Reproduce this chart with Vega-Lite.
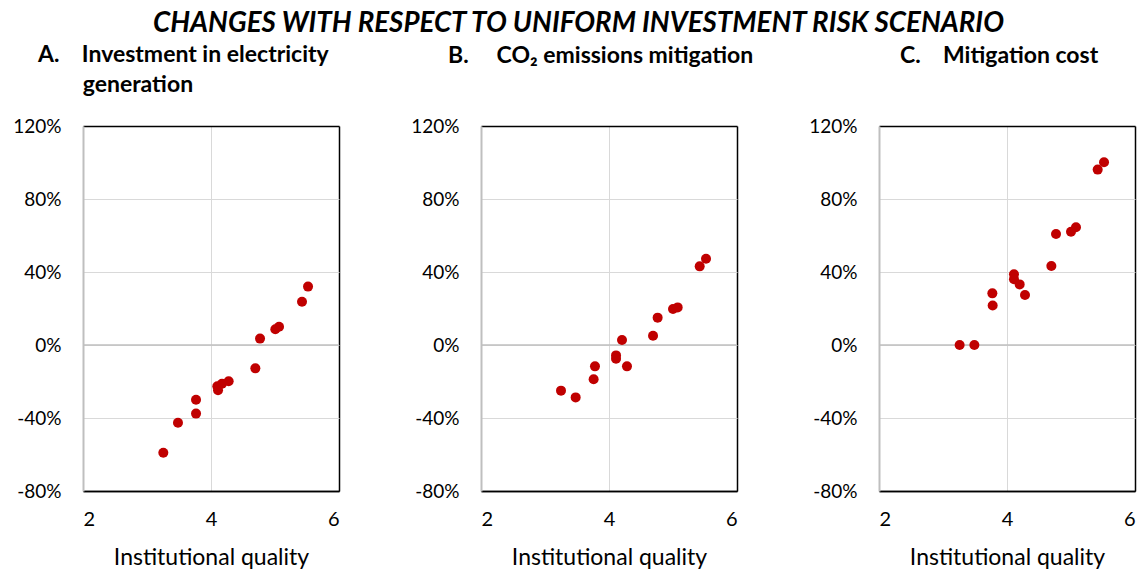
{
  "$schema": "https://vega.github.io/schema/vega-lite/v6.json",
  "background": "white",
  "padding": {"left": 12, "top": 10, "right": 5, "bottom": 5},
  "title": {"text": "CHANGES WITH RESPECT TO UNIFORM INVESTMENT RISK SCENARIO", "font": "Lato", "fontSize": 27.7, "fontWeight": "bold", "fontStyle": "italic", "anchor": "start", "frame": "group", "dx": 70, "offset": 6, "color": "black"},
  "datasets": {
    "A": [
      {"x": 3.255, "y": -0.590}, {"x": 3.484, "y": -0.426}, {"x": 3.766, "y": -0.300}, {"x": 3.766, "y": -0.376},
      {"x": 4.099, "y": -0.226}, {"x": 4.110, "y": -0.248}, {"x": 4.172, "y": -0.212}, {"x": 4.276, "y": -0.199},
      {"x": 4.693, "y": -0.128}, {"x": 4.766, "y": 0.035}, {"x": 5.005, "y": 0.086}, {"x": 5.063, "y": 0.100},
      {"x": 5.422, "y": 0.237}, {"x": 5.516, "y": 0.320}
    ],
    "B": [
      {"x": 3.250, "y": -0.250}, {"x": 3.479, "y": -0.287}, {"x": 3.781, "y": -0.117}, {"x": 3.760, "y": -0.188},
      {"x": 4.110, "y": -0.057}, {"x": 4.110, "y": -0.075}, {"x": 4.203, "y": 0.027}, {"x": 4.281, "y": -0.117},
      {"x": 4.688, "y": 0.051}, {"x": 4.760, "y": 0.150}, {"x": 5.000, "y": 0.197}, {"x": 5.073, "y": 0.206},
      {"x": 5.417, "y": 0.431}, {"x": 5.516, "y": 0.473}
    ],
    "C": [
      {"x": 3.260, "y": 0.000}, {"x": 3.490, "y": 0.000}, {"x": 3.771, "y": 0.283}, {"x": 3.776, "y": 0.216},
      {"x": 4.109, "y": 0.387}, {"x": 4.109, "y": 0.360}, {"x": 4.198, "y": 0.332}, {"x": 4.281, "y": 0.274},
      {"x": 4.693, "y": 0.433}, {"x": 4.766, "y": 0.608}, {"x": 5.000, "y": 0.621}, {"x": 5.078, "y": 0.645},
      {"x": 5.417, "y": 0.961}, {"x": 5.516, "y": 1.001}
    ],
    "zero": [{"v": 0}]
  },
  "spacing": 142,
  "bounds": "flush",
  "config": {
    "view": {"stroke": null},
    "font": "Lato",
    "title": {"font": "Lato", "fontSize": 23, "fontWeight": "bold", "color": "black", "anchor": "start", "frame": "group", "lineHeight": 30}
  },
  "hconcat": [
    {
      "width": 256, "height": 365,
      "title": {"text": ["A.\u00a0\u00a0\u00a0\u00a0Investment in electricity", "\u200b\u00a0\u00a0\u00a0\u00a0\u00a0\u00a0\u00a0\u00a0generation"], "dx": -45, "offset": 20},
      "layer": [
        {
          "data": {"name": "zero"},
          "mark": {"type": "rule", "color": "#bfbfbf", "strokeWidth": 1.5},
          "encoding": {"y": {"field": "v", "type": "quantitative", "scale": {"domain": [-0.8, 1.2], "nice": false, "zero": false}}}
        },
        {
          "data": {"name": "A"},
          "mark": {"type": "circle", "size": 100, "color": "#c00000", "opacity": 1},
          "encoding": {
            "x": {"field": "x", "type": "quantitative", "scale": {"domain": [2, 6], "nice": false, "zero": false},
              "axis": {"values": [2, 4, 6], "title": "Institutional quality", "titleFontSize": 23, "titleFontWeight": "normal", "titleColor": "black", "titlePadding": 17,
                "labelFontSize": 20, "labelColor": "black", "labelPadding": 18, "ticks": false, "tickSize": 0, "domainColor": "black", "domainWidth": 1.5,
                "grid": true, "gridColor": {"condition": {"test": "datum.value > 5.9", "value": "black"}, "value": "#d9d9d9"}, "gridWidth": {"condition": {"test": "datum.value > 5.9", "value": 1.5}, "value": 1}}},
            "y": {"field": "y", "type": "quantitative", "scale": {"domain": [-0.8, 1.2], "nice": false, "zero": false},
              "axis": {"values": [-0.8, -0.4, 0, 0.4, 0.8, 1.2], "title": null, "labelExpr": "round(datum.value*100) + '%'",
                "labelFontSize": 19, "labelColor": "black", "labelPadding": 22, "ticks": false, "tickSize": 0, "domainColor": "#bfbfbf", "domainWidth": 2,
                "grid": true, "gridColor": {"condition": {"test": "datum.value > 1.1 || datum.value < -0.7", "value": "black"}, "value": "#d9d9d9"}, "gridWidth": {"condition": {"test": "datum.value > 1.1 || datum.value < -0.7", "value": 1.5}, "value": 1}}}
          }
        }
      ]
    },
    {
      "width": 256, "height": 365,
      "title": {"text": "B.\u00a0\u00a0\u00a0\u00a0\u00a0CO\u2082 emissions mitigation", "dx": -33, "offset": 49},
      "layer": [
        {
          "data": {"name": "zero"},
          "mark": {"type": "rule", "color": "#bfbfbf", "strokeWidth": 1.5},
          "encoding": {"y": {"field": "v", "type": "quantitative", "scale": {"domain": [-0.8, 1.2], "nice": false, "zero": false}}}
        },
        {
          "data": {"name": "B"},
          "mark": {"type": "circle", "size": 100, "color": "#c00000", "opacity": 1},
          "encoding": {
            "x": {"field": "x", "type": "quantitative", "scale": {"domain": [2, 6], "nice": false, "zero": false},
              "axis": {"values": [2, 4, 6], "title": "Institutional quality", "titleFontSize": 23, "titleFontWeight": "normal", "titleColor": "black", "titlePadding": 17,
                "labelFontSize": 20, "labelColor": "black", "labelPadding": 18, "ticks": false, "tickSize": 0, "domainColor": "black", "domainWidth": 1.5,
                "grid": true, "gridColor": {"condition": {"test": "datum.value > 5.9", "value": "black"}, "value": "#d9d9d9"}, "gridWidth": {"condition": {"test": "datum.value > 5.9", "value": 1.5}, "value": 1}}},
            "y": {"field": "y", "type": "quantitative", "scale": {"domain": [-0.8, 1.2], "nice": false, "zero": false},
              "axis": {"values": [-0.8, -0.4, 0, 0.4, 0.8, 1.2], "title": null, "labelExpr": "round(datum.value*100) + '%'",
                "labelFontSize": 19, "labelColor": "black", "labelPadding": 22, "ticks": false, "tickSize": 0, "domainColor": "#bfbfbf", "domainWidth": 2,
                "grid": true, "gridColor": {"condition": {"test": "datum.value > 1.1 || datum.value < -0.7", "value": "black"}, "value": "#d9d9d9"}, "gridWidth": {"condition": {"test": "datum.value > 1.1 || datum.value < -0.7", "value": 1.5}, "value": 1}}}
          }
        }
      ]
    },
    {
      "width": 256, "height": 365,
      "title": {"text": "C.\u00a0\u00a0\u00a0\u00a0Mitigation cost", "dx": 21, "offset": 49},
      "layer": [
        {
          "data": {"name": "zero"},
          "mark": {"type": "rule", "color": "#bfbfbf", "strokeWidth": 1.5},
          "encoding": {"y": {"field": "v", "type": "quantitative", "scale": {"domain": [-0.8, 1.2], "nice": false, "zero": false}}}
        },
        {
          "data": {"name": "C"},
          "mark": {"type": "circle", "size": 100, "color": "#c00000", "opacity": 1},
          "encoding": {
            "x": {"field": "x", "type": "quantitative", "scale": {"domain": [2, 6], "nice": false, "zero": false},
              "axis": {"values": [2, 4, 6], "title": "Institutional quality", "titleFontSize": 23, "titleFontWeight": "normal", "titleColor": "black", "titlePadding": 17,
                "labelFontSize": 20, "labelColor": "black", "labelPadding": 18, "ticks": false, "tickSize": 0, "domainColor": "black", "domainWidth": 1.5,
                "grid": true, "gridColor": {"condition": {"test": "datum.value > 5.9", "value": "black"}, "value": "#d9d9d9"}, "gridWidth": {"condition": {"test": "datum.value > 5.9", "value": 1.5}, "value": 1}}},
            "y": {"field": "y", "type": "quantitative", "scale": {"domain": [-0.8, 1.2], "nice": false, "zero": false},
              "axis": {"values": [-0.8, -0.4, 0, 0.4, 0.8, 1.2], "title": null, "labelExpr": "round(datum.value*100) + '%'",
                "labelFontSize": 19, "labelColor": "black", "labelPadding": 22, "ticks": false, "tickSize": 0, "domainColor": "#bfbfbf", "domainWidth": 2,
                "grid": true, "gridColor": {"condition": {"test": "datum.value > 1.1 || datum.value < -0.7", "value": "black"}, "value": "#d9d9d9"}, "gridWidth": {"condition": {"test": "datum.value > 1.1 || datum.value < -0.7", "value": 1.5}, "value": 1}}}
          }
        }
      ]
    }
  ]
}
